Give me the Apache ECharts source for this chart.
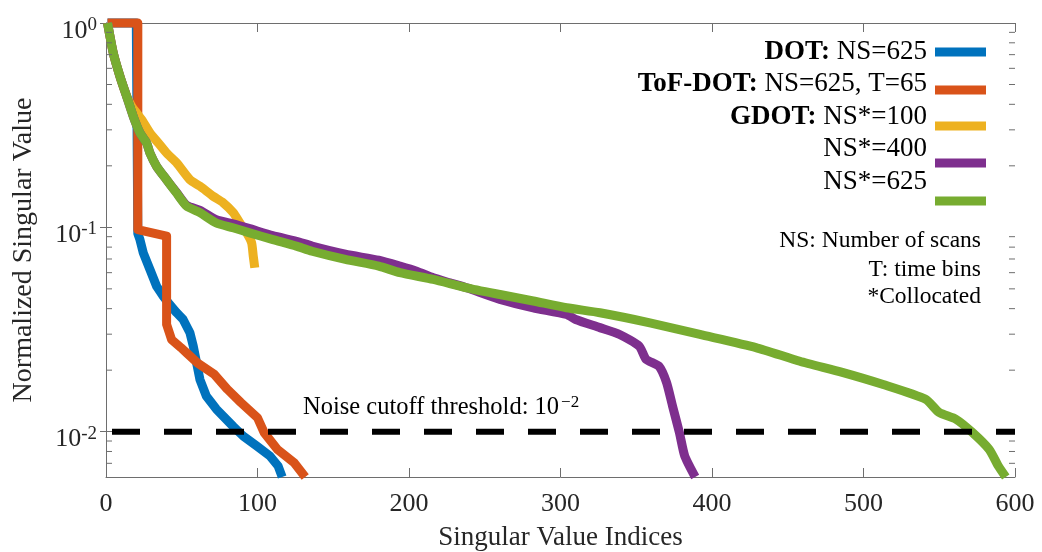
<!DOCTYPE html>
<html>
<head>
<meta charset="utf-8">
<script src="https://cdn.jsdelivr.net/npm/echarts@6/dist/echarts.min.js"></script>
<style>
  html, body { margin: 0; padding: 0; background: #fff; }
  #chart { width: 1042px; height: 552px; }
</style>
</head>
<body>
<div id="chart"></div>
<script>
// Singular value spectra (normalized), log scale; each curve ends where it reaches the axis floor
const dotIdx = [1, 20, 21, 22.4, 24.6, 29, 33.4, 37.8, 42, 46.6, 50.9, 55.4, 57.6, 59.8, 62, 66.3, 72.8, 84, 90.6, 99.4, 108.2, 113.6, 116.3];
const dotVal = [1, 1, 0.0933, 0.0871, 0.0750, 0.0622, 0.0515, 0.0460, 0.0419, 0.0382, 0.0354, 0.0305, 0.0262, 0.0217, 0.0180, 0.0149, 0.0129, 0.0106, 0.00951, 0.00851, 0.00760, 0.00679, 0.006];

const tofIdx = [1, 21, 21, 40, 40, 43.3, 49.4, 53.2, 60.4, 71.4, 80.2, 89, 100, 104.4, 113.2, 124.2, 131.5];
const tofVal = [1, 1, 0.0975, 0.0906, 0.0335, 0.0282, 0.0258, 0.0243, 0.0217, 0.0191, 0.0161, 0.0139, 0.0117, 0.00989, 0.00818, 0.00705, 0.006];

const g100Idx = [1, 4.8, 9.2, 13.6, 17, 20.2, 23.5, 29, 34.5, 40, 46.6, 55.4, 62, 70.7, 77.3, 84, 88.4, 92.8, 96.1, 97.2, 98.2];
const g100Val = [1, 0.713, 0.548, 0.440, 0.390, 0.363, 0.337, 0.290, 0.259, 0.231, 0.207, 0.171, 0.159, 0.142, 0.132, 0.118, 0.105, 0.094, 0.084, 0.0723, 0.0634];

const g400Idx = [1, 4.8, 9.2, 13.6, 18, 22.4, 26.8, 29, 33.4, 40, 46.6, 53.2, 62, 72.8, 83.8, 94.8, 110, 125.6, 136, 158, 180, 194, 205, 216, 227, 238, 260, 282, 304, 310, 326, 339, 352, 356.5, 365, 370, 374, 378.5, 382, 388.9];
const g400Val = [1, 0.713, 0.548, 0.438, 0.349, 0.290, 0.259, 0.231, 0.199, 0.171, 0.148, 0.128, 0.121, 0.109, 0.104, 0.0985, 0.091, 0.0855, 0.081, 0.0739, 0.069, 0.0646, 0.0610, 0.0566, 0.0535, 0.0506, 0.0444, 0.0404, 0.0375, 0.0354, 0.0323, 0.0299, 0.0262, 0.0226, 0.0209, 0.0174, 0.0133, 0.00989, 0.00760, 0.006];

const g625Idx = [1, 4.8, 9.2, 13.6, 18, 22.4, 26.8, 29, 33.4, 40, 46.6, 53.2, 62, 72.8, 83.8, 94.8, 110.2, 125.6, 136, 158, 180, 194, 216, 238, 260, 282, 304, 326, 359, 392, 429, 458, 486, 513, 541, 550, 561, 572, 583, 589, 593.9];
const g625Val = [1, 0.713, 0.548, 0.438, 0.349, 0.290, 0.259, 0.231, 0.199, 0.171, 0.147, 0.127, 0.118, 0.105, 0.0995, 0.094, 0.0871, 0.0809, 0.0764, 0.0697, 0.0646, 0.0600, 0.0556, 0.0506, 0.0469, 0.0436, 0.0404, 0.0382, 0.0341, 0.0299, 0.0258, 0.0221, 0.0195, 0.0170, 0.0144, 0.0124, 0.0115, 0.00989, 0.00818, 0.00679, 0.006];

const noiseCutoff = 0.01;
const xTicks = [0, 100, 200, 300, 400, 500, 600];
const yMajorTicks = [0.01, 0.1, 1];
const yMinorTicks = [0.007, 0.008, 0.009, 0.02, 0.03, 0.04, 0.05, 0.06, 0.07, 0.08, 0.09, 0.2, 0.3, 0.4, 0.5, 0.6, 0.7, 0.8, 0.9];

const seriesNames = ['DOT: NS=625', 'ToF-DOT: NS=625, T=65', 'GDOT: NS*=100', 'NS*=400', 'NS*=625'];
const legendBold = ['DOT:', 'ToF-DOT:', 'GDOT:', '', ''];
const legendRest = [' NS=625', ' NS=625, T=65', ' NS*=100', 'NS*=400', 'NS*=625'];
const notes = ['NS: Number of scans', 'T: time bins', '*Collocated'];
const colors = ['#0072BD', '#D95319', '#EDB120', '#7E2F8E', '#77AC30'];
const smoothing = [0, 0, 0.2, 0.2, 0.2];

const FONT = 'Liberation Serif';
const AXIS_COLOR = '#6e6e6e';
const TEXT_COLOR = '#262626';
const X_MIN = 0, X_MAX = 600, Y_MIN = 0.006, Y_MAX = 1;

const zip = (xs, ys) => xs.map((x, i) => [x, ys[i]]);
const curves = [
  zip(dotIdx, dotVal),
  zip(tofIdx, tofVal),
  zip(g100Idx, g100Val),
  zip(g400Idx, g400Val),
  zip(g625Idx, g625Val)
];

const chart = echarts.init(document.getElementById('chart'), null, { renderer: 'canvas' });

const supFormatter = (v) => '{b|10}{s|' + Math.round(Math.log10(v)) + '}';

const lineSeries = curves.map((data, i) => ({
  name: seriesNames[i],
  type: 'line',
  data: data,
  showSymbol: false,
  symbol: 'none',
  smooth: smoothing[i],
  clip: false,
  lineStyle: { color: colors[i], width: 9, join: 'round', cap: 'butt' },
  itemStyle: { color: colors[i] },
  z: 2 + i,
  silent: true
}));

// Minor log ticks on the left and right axes
const minorTickSeries = {
  type: 'custom',
  silent: true,
  clip: false,
  z: 20,
  data: yMinorTicks.map(v => [X_MIN, v]),
  encode: { x: 0, y: 1 },
  renderItem: (params, api) => {
    const v = api.value(1);
    const pl = api.coord([X_MIN, v]);
    const pr = api.coord([X_MAX, v]);
    const st = { stroke: AXIS_COLOR, lineWidth: 1 };
    return {
      type: 'group',
      children: [
        { type: 'line', shape: { x1: pl[0], y1: pl[1], x2: pl[0] + 6, y2: pl[1] }, style: st },
        { type: 'line', shape: { x1: pr[0], y1: pr[1], x2: pr[0] - 6, y2: pr[1] }, style: st }
      ]
    };
  }
};

const thresholdSeries = {
  name: 'threshold',
  type: 'line',
  data: [[X_MIN, noiseCutoff], [X_MAX, noiseCutoff]],
  showSymbol: false,
  symbol: 'none',
  clip: true,
  silent: true,
  z: 10,
  lineStyle: { color: '#000', width: 6, type: [28, 24], dashOffset: 46, cap: 'butt' }
};

// Legend block: right-aligned labels with swatches
const legendTextY = [52, 84, 117, 149, 182];
const legendSwatchY = [52, 90, 126, 163, 201];
const legendGraphics = [];
seriesNames.forEach((n, i) => {
  const txt = (legendBold[i] ? '{bd|' + legendBold[i] + '}' : '') + '{rg|' + legendRest[i] + '}';
  legendGraphics.push({
    type: 'text',
    x: 927, y: legendTextY[i],
    style: {
      text: txt,
      align: 'right', verticalAlign: 'middle',
      rich: {
        bd: { fontFamily: FONT, fontSize: 27, fontWeight: 'bold', fill: '#000' },
        rg: { fontFamily: FONT, fontSize: 27, fill: '#000' }
      }
    },
    z: 30
  });
  legendGraphics.push({
    type: 'rect',
    shape: { x: 935, y: legendSwatchY[i] - 4.5, width: 51, height: 9 },
    style: { fill: colors[i] },
    z: 30
  });
});

const noteY = [241, 270, 297];
notes.forEach((t, i) => {
  legendGraphics.push({
    type: 'text',
    x: 981, y: noteY[i],
    style: { text: t, align: 'right', verticalAlign: 'middle', fontFamily: FONT, fontSize: 23.5, fill: '#000' },
    z: 30
  });
});

legendGraphics.push({
  type: 'text',
  x: 303, y: 408,
  style: {
    text: '{t|Noise cutoff threshold: 10}{s|\u22122}',
    align: 'left', verticalAlign: 'middle',
    rich: {
      t: { fontFamily: FONT, fontSize: 24.5, fill: '#000' },
      s: { fontFamily: FONT, fontSize: 17, fill: '#000', verticalAlign: 'top', padding: [0, 0, 10, 2] }
    }
  },
  z: 30
});

const commonX = {
  type: 'value', min: X_MIN, max: X_MAX, interval: 100,
  splitLine: { show: false },
  axisLine: { show: true, lineStyle: { color: AXIS_COLOR, width: 1 } },
  axisTick: { show: true, inside: true, length: 9, lineStyle: { color: AXIS_COLOR } }
};
const commonY = {
  type: 'log', logBase: 10, min: Y_MIN, max: Y_MAX,
  splitLine: { show: false },
  minorTick: { show: false },
  axisLine: { show: true, lineStyle: { color: AXIS_COLOR, width: 1 } },
  axisTick: { show: true, inside: true, length: 6, customValues: yMajorTicks, lineStyle: { color: AXIS_COLOR } }
};

const option = {
  animation: false,
  backgroundColor: '#fff',
  grid: { left: 106, right: 27, top: 23, bottom: 75, containLabel: false, outerBoundsMode: 'none' },
  xAxis: [
    Object.assign({}, commonX, {
      position: 'bottom',
      name: 'Singular Value Indices',
      nameLocation: 'middle', nameGap: 47,
      nameTextStyle: { fontFamily: FONT, fontSize: 27, color: TEXT_COLOR },
      axisLabel: { show: true, margin: 14, fontFamily: FONT, fontSize: 26, color: TEXT_COLOR, customValues: xTicks }
    }),
    Object.assign({}, commonX, { position: 'top', axisLabel: { show: false } })
  ],
  yAxis: [
    Object.assign({}, commonY, {
      position: 'left',
      name: 'Normalized Singular Value',
      nameLocation: 'middle', nameGap: 68, nameRotate: 90,
      nameTextStyle: { fontFamily: FONT, fontSize: 28, color: TEXT_COLOR },
      axisLabel: {
        show: true, margin: 9, customValues: yMajorTicks,
        formatter: supFormatter,
        padding: [16, 0, 0, 0],
        rich: {
          b: { fontFamily: FONT, fontSize: 26, color: TEXT_COLOR },
          s: { fontFamily: FONT, fontSize: 19, color: TEXT_COLOR, verticalAlign: 'top', padding: [0, 0, 12, 0] }
        }
      }
    }),
    Object.assign({}, commonY, { position: 'right', axisLabel: { show: false } })
  ],
  graphic: legendGraphics,
  series: lineSeries.concat([thresholdSeries, minorTickSeries])
};

chart.setOption(option);
</script>
</body>
</html>
